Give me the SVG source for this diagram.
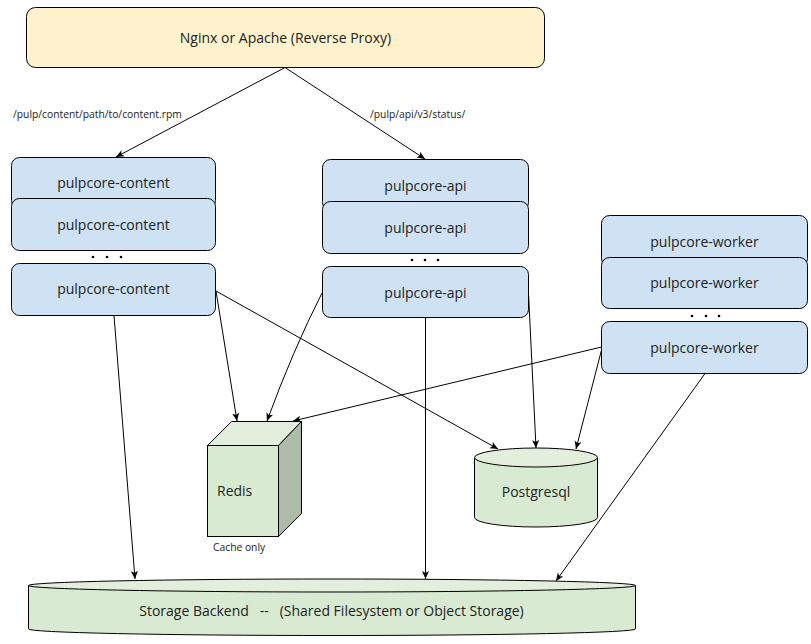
<svg xmlns="http://www.w3.org/2000/svg" width="811" height="644" viewBox="0 0 811 644">
<defs>
<marker id="arr" markerUnits="userSpaceOnUse" markerWidth="9" markerHeight="8" refX="8" refY="4" orient="auto">
<path d="M0,0.5 L8,4 L0,7.5 L2,4 Z" fill="#000"/>
</marker>
<style>
text{font-family:"Open Sans","Liberation Sans",sans-serif;fill:#222}
.t14{font-size:14px;text-anchor:middle}
.lbl{font-size:10.3px}
.box{fill:#cfe2f3;stroke:#000;stroke-width:1}
.con{fill:none;stroke:#000;stroke-width:1;marker-end:url(#arr)}
.dot{fill:#000}
</style>
</defs>
<rect width="811" height="644" fill="#fff"/>

<g id="nginx">
<rect x="26.5" y="7.5" width="518" height="60" rx="9" fill="#fff2cc" stroke="#000"/>
<text class="t14" x="285.5" y="43">Nginx or Apache (Reverse Proxy)</text>
</g>

<g id="content1"><rect class="box" x="11.5" y="157.5" width="204" height="51" rx="8"/><text class="t14" x="113.5" y="188">pulpcore-content</text></g>
<g id="content2"><rect class="box" x="11.5" y="198.5" width="204" height="52" rx="8"/><text class="t14" x="113.5" y="230">pulpcore-content</text></g>
<g id="content-dots"><circle class="dot" cx="93" cy="257" r="1.3"/><circle class="dot" cx="107" cy="257" r="1.3"/><circle class="dot" cx="121" cy="257" r="1.3"/></g>
<g id="content3"><rect class="box" x="11.5" y="263.5" width="204" height="52" rx="8"/><text class="t14" x="113.5" y="294">pulpcore-content</text></g>

<g id="api1"><rect class="box" x="322.5" y="159.5" width="206" height="51" rx="8"/><text class="t14" x="425.5" y="191">pulpcore-api</text></g>
<g id="api2"><rect class="box" x="322.5" y="201.5" width="206" height="52" rx="8"/><text class="t14" x="425.5" y="233">pulpcore-api</text></g>
<g id="api-dots"><circle class="dot" cx="412" cy="260" r="1.3"/><circle class="dot" cx="425" cy="260" r="1.3"/><circle class="dot" cx="438" cy="260" r="1.3"/></g>
<g id="api3"><rect class="box" x="322.5" y="266.5" width="206" height="51" rx="8"/><text class="t14" x="425.5" y="298">pulpcore-api</text></g>

<g id="worker1"><rect class="box" x="601.5" y="215.5" width="206" height="51" rx="8"/><text class="t14" x="704.5" y="247">pulpcore-worker</text></g>
<g id="worker2"><rect class="box" x="601.5" y="257.5" width="206" height="51" rx="8"/><text class="t14" x="704.5" y="288">pulpcore-worker</text></g>
<g id="worker-dots"><circle class="dot" cx="692" cy="316" r="1.3"/><circle class="dot" cx="706" cy="316" r="1.3"/><circle class="dot" cx="719" cy="316" r="1.3"/></g>
<g id="worker3"><rect class="box" x="601.5" y="321.5" width="206" height="52" rx="8"/><text class="t14" x="704.5" y="353">pulpcore-worker</text></g>

<g id="redis">
<rect x="207.5" y="445.5" width="71" height="91" fill="#d9ead3" stroke="#000"/>
<polygon points="207.5,445.5 231.5,421.5 301.5,421.5 278.5,445.5" fill="#e3eedc" stroke="#000"/>
<polygon points="278.5,445.5 301.5,421.5 301.5,513.5 278.5,536.5" fill="#adbba8" stroke="#000"/>
<text x="217" y="496" style="font-size:14px">Redis</text>
<text x="213" y="551" class="lbl">Cache only</text>
</g>

<g id="postgresql">
<path d="M474.5,457.5 L474.5,517.5 A61.5,9.5 0 0 0 597.5,517.5 L597.5,457.5" fill="#d9ead3" stroke="#000"/>
<ellipse cx="536" cy="457.5" rx="61.5" ry="9.5" fill="#e3eedc" stroke="#000"/>
<text class="t14" x="536" y="497">Postgresql</text>
</g>

<g id="storage">
<path d="M28.5,585.5 L28.5,629 A303.5,6.5 0 0 0 635.5,629 L635.5,585.5" fill="#d9ead3" stroke="#000"/>
<ellipse cx="332" cy="585.5" rx="303.5" ry="6.5" fill="#e3eedc" stroke="#000"/>
<text class="t14" x="331.5" y="616" style="white-space:pre">Storage Backend   --   (Shared Filesystem or Object Storage)</text>
</g>

<g id="connectors">
<path class="con" d="M285,67.5 L116,157"/>
<path class="con" d="M285,67.5 L425,159"/>
<text class="lbl" x="13" y="118">/pulp/content/path/to/content.rpm</text>
<text class="lbl" x="370" y="118">/pulp/api/v3/status/</text>
<path class="con" d="M114,315.5 L135,579"/>
<path class="con" d="M216,291 L237,421"/>
<path class="con" d="M216,291 L498,449"/>
<path class="con" d="M322,293 Q293,350 267,421"/>
<path class="con" d="M425.5,317.5 L425.5,579"/>
<path class="con" d="M528.5,293 L536,448"/>
<path class="con" d="M601.5,347 L293,421"/>
<path class="con" d="M601.5,350 L576,449"/>
<path class="con" d="M705,373.5 L556,581"/>
</g>
</svg>
